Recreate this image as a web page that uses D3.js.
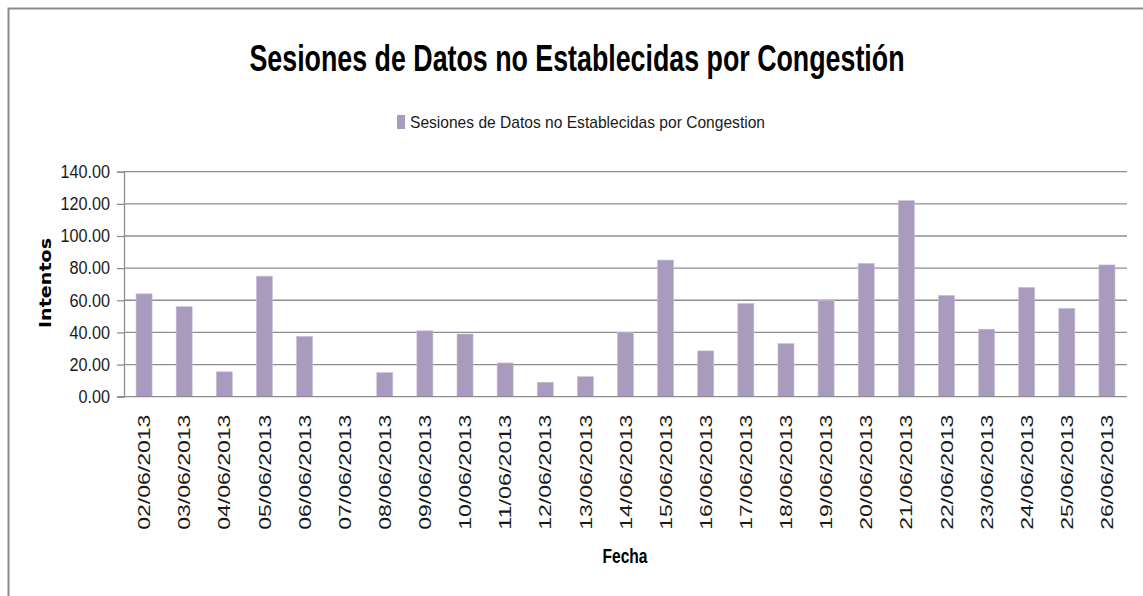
<!DOCTYPE html>
<html>
<head>
    <meta charset="UTF-8" />
    <title>Sesiones de Datos no Establecidas por Congestión</title>
    <script src="https://d3js.org/d3.v7.min.js"></script>
<style type="text/css">
body {
    margin: 0;
    background-color: #fff;
    font-family: "Liberation Sans", Arial, sans-serif;
}
.grid line {
    stroke: #8e8e8e;
    stroke-width: 1.3px;
}
.axis path, .axis line {
    stroke: #8e8e8e;
    stroke-width: 1.3px;
}
.axis text {
    fill: #1a1a1a;
}
</style>
</head>
<body>
<svg width="1143" height="596" id="svg1"></svg>

<script type="text/javascript">
var fechas = ['02/06/2013', '03/06/2013', '04/06/2013', '05/06/2013', '06/06/2013',
    '07/06/2013', '08/06/2013', '09/06/2013', '10/06/2013', '11/06/2013',
    '12/06/2013', '13/06/2013', '14/06/2013', '15/06/2013', '16/06/2013',
    '17/06/2013', '18/06/2013', '19/06/2013', '20/06/2013', '21/06/2013',
    '22/06/2013', '23/06/2013', '24/06/2013', '25/06/2013', '26/06/2013'];
var intentos = [64, 56, 15.5, 75, 37.5, 0, 15, 41, 39, 21, 9, 12.5, 40,
    85, 28.5, 58, 33, 60, 83, 122, 63, 42, 68, 55, 82];
var yTicks = [0, 20, 40, 60, 80, 100, 120, 140];

var titulo = 'Sesiones de Datos no Establecidas por Congestión';
var serie = 'Sesiones de Datos no Establecidas por Congestion';
var color = '#a89bbe';

var svg = d3.select('#svg1');

// frame of the chart area
svg.append('rect')
    .attr('x', 8.5).attr('y', 8.5)
    .attr('width', 1200).attr('height', 700)
    .attr('fill', 'none')
    .attr('stroke', '#8a8a8a')
    .attr('stroke-width', 2);

var plotLeft = 124, plotRight = 1127, plotTop = 171.7, plotBottom = 396.7;

var x = d3.scaleBand()
    .domain(fechas)
    .range([plotLeft, plotRight])
    .paddingInner(0.6)
    .paddingOuter(0.3);

var y = d3.scaleLinear()
    .domain([0, 140])
    .range([plotBottom, plotTop]);

// squeeze text horizontally, the source font is condensed
function squeeze(sel, k) {
    sel.each(function() {
        var w = this.getComputedTextLength();
        d3.select(this).attr('textLength', w * k).attr('lengthAdjust', 'spacingAndGlyphs');
    });
}

// gridlines
svg.append('g').attr('class', 'grid')
    .selectAll('line').data(yTicks.slice(1))
    .enter().append('line')
    .attr('x1', plotLeft).attr('x2', plotRight)
    .attr('y1', function(d) { return y(d); })
    .attr('y2', function(d) { return y(d); });

// bars
svg.append('g').selectAll('rect').data(intentos)
    .enter().append('rect')
    .attr('x', function(d, i) { return x(fechas[i]); })
    .attr('width', x.bandwidth())
    .attr('y', function(d) { return y(d); })
    .attr('height', function(d) { return plotBottom - y(d); })
    .attr('fill', color)
    .attr('stroke', '#c9c0da')
    .attr('stroke-width', 0.6);

// y axis
var yAxis = svg.append('g').attr('class', 'axis')
    .attr('transform', 'translate(' + plotLeft + ',0)')
    .call(d3.axisLeft(y).tickValues(yTicks).tickFormat(d3.format('.2f')).tickSize(7).tickPadding(7));
yAxis.selectAll('text')
    .attr('font-size', 18)
    .attr('font-family', '"Liberation Sans", Arial, sans-serif')
    .call(squeeze, 0.9);

// x axis
var xAxis = svg.append('g').attr('class', 'axis')
    .attr('transform', 'translate(0,' + plotBottom + ')')
    .call(d3.axisBottom(x).tickSize(0).tickSizeOuter(0));
xAxis.select('.domain').attr('d', 'M' + (plotLeft - 7) + ',0H' + plotRight);
xAxis.selectAll('text')
    .attr('font-size', 17)
    .attr('font-family', '"Liberation Sans", Arial, sans-serif')
    .attr('text-anchor', 'end')
    .attr('transform', 'translate(0,18) rotate(-90)')
    .attr('x', 0).attr('y', 0).attr('dy', '0.36em')
    .attr('textLength', 115)
    .attr('lengthAdjust', 'spacingAndGlyphs');

// title
svg.append('text')
    .attr('x', 577).attr('y', 71)
    .attr('text-anchor', 'middle')
    .attr('font-size', 36)
    .attr('font-weight', 'bold')
    .attr('fill', '#000')
    .attr('textLength', 655)
    .attr('lengthAdjust', 'spacingAndGlyphs')
    .text(titulo);

// legend
svg.append('rect')
    .attr('x', 397).attr('y', 115)
    .attr('width', 8).attr('height', 14)
    .attr('fill', color);
svg.append('text')
    .attr('x', 410).attr('y', 128)
    .attr('font-size', 17)
    .attr('fill', '#1a1a1a')
    .attr('textLength', 355)
    .attr('lengthAdjust', 'spacingAndGlyphs')
    .text(serie);

// axis titles
svg.append('text')
    .attr('transform', 'translate(51,283) rotate(-90)')
    .attr('text-anchor', 'middle')
    .attr('font-family', '"DejaVu Sans", Verdana, sans-serif')
    .attr('font-size', 15)
    .attr('font-weight', 'bold')
    .attr('fill', '#000')
    .attr('textLength', 90)
    .attr('lengthAdjust', 'spacingAndGlyphs')
    .text('Intentos');

svg.append('text')
    .attr('x', 625).attr('y', 563)
    .attr('text-anchor', 'middle')
    .attr('font-size', 21)
    .attr('font-weight', 'bold')
    .attr('fill', '#000')
    .attr('textLength', 45)
    .attr('lengthAdjust', 'spacingAndGlyphs')
    .text('Fecha');
</script>
</body>
</html>
